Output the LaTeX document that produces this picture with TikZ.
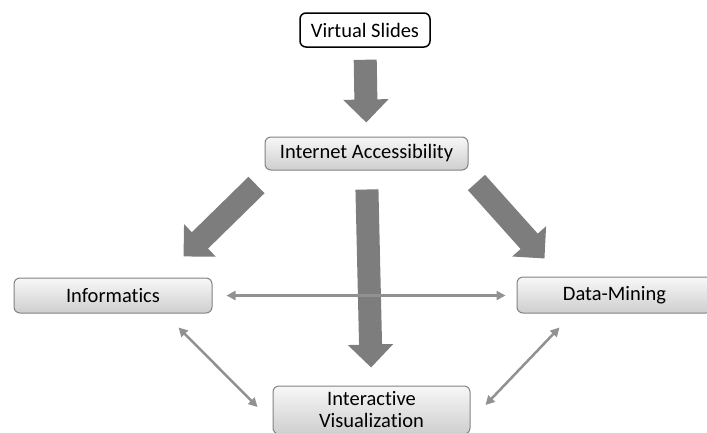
\documentclass[tikz,border=0pt]{standalone}
\usepackage{fontspec}
\setmainfont{Carlito}[Ligatures=NoCommon]
\usetikzlibrary{arrows.meta,calc}
\definecolor{bigarr}{RGB}{125,125,125}
\definecolor{thinarr}{RGB}{145,145,145}
\definecolor{boxline}{RGB}{130,130,130}
\begin{document}
\begin{tikzpicture}[x=1pt,y=-1pt,
  every node/.style={font=\fontsize{20.5}{22}\selectfont, inner sep=0pt},
  greybox/.style={draw=boxline, line width=1pt, rounded corners=6pt,
    top color=gray!6, bottom color=gray!38, align=center},
  bigarrow/.style={draw=bigarr, line width=23pt,
    -{Triangle[length=23pt,width=44pt,fill=bigarr]}},
  thinarrow/.style={draw=thinarr, line width=2.5pt,
    {Triangle[length=9pt,width=9pt]}-{Triangle[length=9pt,width=9pt]}}]
\useasboundingbox (0,0) rectangle (707,432);
\node[draw=black, line width=1.5pt, rounded corners=6pt, fill=white,
  minimum width=130pt, minimum height=34pt] (vs) at (365,30) {Virtual Slides};
\node[greybox, minimum width=203pt, minimum height=33pt] (ia) at (366.5,153.5) {Internet Accessibility};
\node[greybox, minimum width=198pt, minimum height=35pt] (inf) at (113,295.5) {Informatics};
\node[greybox, minimum width=195pt, minimum height=36pt] (dm) at (614.5,295) {Data-Mining};
\node[greybox, minimum width=197pt, minimum height=48pt] (iv) at (371.5,410) {Interactive\\Visualization};
% big arrows
\draw[bigarrow, shorten <=12pt, shorten >=14pt] (vs.south) -- (ia.north);
\draw[bigarrow, shorten <=19pt, shorten >=18pt] (ia.south) -- (iv.north);
\draw[bigarrow] ($(ia.south west)+(-8,14.5)$) -- ($(inf.north east)+(-29,-21)$);
\draw[bigarrow] ($(ia.south east)+(8,12)$) -- ($(dm.north west)+(28,-18)$);
% thin arrows
\draw[thinarrow, shorten <=14pt, shorten >=11pt] (inf.east) -- (inf.east -| dm.west);
\draw[thinarrow] ($(inf.south east)+(-34,14)$) -- ($(iv.west)+(-15,-3)$);
\draw[thinarrow] ($(dm.south west)+(43,14)$) -- ($(iv.east)+(15,-5)$);
\end{tikzpicture}
\end{document}
